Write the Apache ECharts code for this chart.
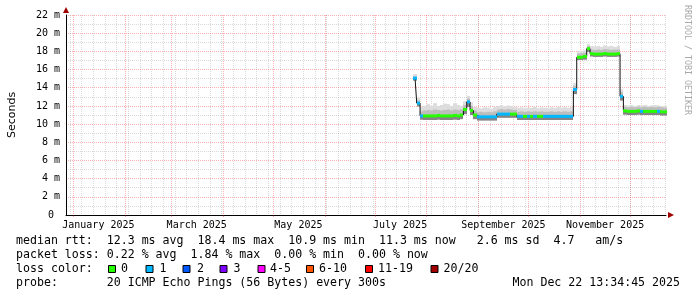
<!DOCTYPE html>
<html><head><meta charset="utf-8">
<script src="https://cdn.jsdelivr.net/npm/echarts@6/dist/echarts.min.js"></script>
<style>html,body{margin:0;padding:0;background:#fff}#c{width:697px;height:297px}</style>
</head><body><div id="c"></div>
<script>
// ---- time range and sampling ----
const rangeStart = '2024-12-27T13:34:45Z';
const rangeEnd = '2025-12-22T13:34:45Z';
const dataStart = '2025-07-25T00:00:00Z';
const stepDays = 2;

// ---- series values (ms) ----
const medianRtt = [
 15.05, 12.3, 10.9, 10.9, 10.9, 10.9, 10.9, 10.95, 10.9, 10.9,
 10.9, 10.9, 10.95, 10.9, 11.0, 11.6, 12.45, 11.5, 11.0, 10.8,
 10.8, 10.8, 10.8, 10.8, 10.8, 11.1, 11.1, 11.1, 11.1, 11.1,
 11.1, 10.85, 10.85, 10.85, 10.85, 10.85, 10.85, 10.85, 10.85, 10.85,
 10.85, 10.85, 10.85, 10.85, 10.85, 10.85, 10.85, 10.85, 13.8, 17.35,
 17.35, 17.45, 18.3, 17.75, 17.7, 17.7, 17.7, 17.75, 17.7, 17.7,
 17.7, 17.75, 13.05, 11.45, 11.4, 11.4, 11.4, 11.45, 11.4, 11.4,
 11.4, 11.4, 11.4, 11.4, 11.35, 11.35];
const lossCount = [
 1,1,1,0,0,0,0,0,0,0,
 0,0,0,0,0,0,1,0,0,1,
 1,1,1,1,1,1,1,1,1,0,
 0,1,1,0,1,0,1,0,0,1,
 1,1,1,1,1,1,1,1,1,0,
 0,0,0,0,0,0,0,0,0,0,
 0,0,1,0,0,0,0,0,1,0,
 0,0,0,1,0,0];
const smokeMin = [
 14.8, 11.95, 10.5, 10.45, 10.45, 10.45, 10.45, 10.5, 10.45, 10.45,
 10.45, 10.45, 10.5, 10.45, 10.55, 11.1, 11.9, 11.0, 10.55, 10.4,
 10.4, 10.4, 10.4, 10.4, 10.4, 10.7, 10.7, 10.7, 10.7, 10.7,
 10.7, 10.45, 10.45, 10.45, 10.45, 10.45, 10.45, 10.45, 10.45, 10.45,
 10.45, 10.45, 10.45, 10.45, 10.45, 10.45, 10.45, 10.45, 13.3, 17.05,
 17.05, 17.1, 17.95, 17.45, 17.4, 17.4, 17.4, 17.45, 17.4, 17.4,
 17.4, 17.45, 12.6, 11.05, 11.0, 11.0, 11.0, 11.05, 11.0, 11.0,
 11.0, 11.0, 11.0, 11.0, 10.95, 10.95];
const smokeMid = [
 15.25, 12.6, 11.4, 11.5, 11.55, 11.5, 11.6, 11.55, 11.5, 11.55,
 11.6, 11.5, 11.6, 11.55, 11.6, 12.1, 12.8, 12.0, 11.5, 11.3,
 11.35, 11.3, 11.35, 11.3, 11.4, 11.6, 11.65, 11.6, 11.65, 11.6,
 11.55, 11.35, 11.4, 11.35, 11.4, 11.35, 11.4, 11.35, 11.4, 11.35,
 11.35, 11.4, 11.35, 11.4, 11.35, 11.4, 11.35, 11.4, 14.2, 17.75,
 17.8, 17.85, 18.6, 18.2, 18.15, 18.2, 18.15, 18.25, 18.2, 18.15,
 18.2, 18.2, 13.5, 11.9, 11.85, 11.9, 11.85, 11.9, 11.85, 11.9,
 11.85, 11.9, 11.85, 11.9, 11.85, 11.8];
const smokeMax = [
 15.5, 12.9, 11.9, 12.0, 12.2, 11.95, 12.3, 12.0, 12.1, 12.25,
 12.2, 12.0, 12.3, 12.1, 12.0, 12.5, 13.1, 12.4, 11.9, 11.8,
 11.75, 11.85, 11.8, 11.7, 11.9, 12.0, 12.1, 11.95, 12.05, 12.0,
 11.9, 11.8, 11.85, 11.75, 11.8, 11.8, 11.9, 11.75, 11.85, 11.8,
 11.75, 11.85, 11.8, 11.9, 11.8, 11.85, 11.8, 11.9, 14.5, 18.0,
 18.05, 18.1, 18.8, 18.6, 18.55, 18.6, 18.5, 18.65, 18.55, 18.6,
 18.5, 18.6, 13.8, 12.1, 12.05, 12.1, 12.0, 12.1, 12.05, 12.1,
 12.0, 12.05, 12.1, 12.05, 12.0, 12.0];

// ---- axis ticks / labels ----
const monthStarts = ['2025-01-01','2025-02-01','2025-03-01','2025-04-01','2025-05-01','2025-06-01',
  '2025-07-01','2025-08-01','2025-09-01','2025-10-01','2025-11-01','2025-12-01'];
const labelDates = ['2025-01-16','2025-03-16','2025-05-16','2025-07-16','2025-09-16','2025-11-16'];
const tickLabels = ['January 2025','March 2025','May 2025','July 2025','September 2025','November 2025'];
const firstMinorGrid = '2024-12-30';
const minorGridDays = 7;

// ---- legend texts ----
const lossLegend = ['0','1','2','3','4-5','6-10','11-19','20/20'];
const lossColors = ['#26ff00','#00b8ff','#0059ff','#7e00ff','#ff00ff','#ff5500','#ff0000','#a10000'];
const statLines = [
  'median rtt:  12.3 ms avg  18.4 ms max  10.9 ms min  11.3 ms now   2.6 ms sd  4.7   am/s',
  'packet loss: 0.22 % avg  1.84 % max  0.00 % min  0.00 % now',
  'loss color:',
  'probe:       20 ICMP Echo Pings (56 Bytes) every 300s'
];
const stampText = 'Mon Dec 22 13:34:45 2025';
const watermark = 'RRDTOOL / TOBI OETIKER';

// ---- build ----
const DAY = 86400000;
const tMin = Date.parse(rangeStart), tMax = Date.parse(rangeEnd);
const t0 = Date.parse(dataStart);
const monthTimes = monthStarts.map(d => Date.parse(d + 'T00:00:00Z'));
const labelTimes = labelDates.map(d => Date.parse(d + 'T00:00:00Z'));
const minorTimes = [];
for (let t = Date.parse(firstMinorGrid + 'T00:00:00Z'); t < tMax; t += minorGridDays * DAY) minorTimes.push(t);

function lossClass(n) {
  if (n <= 3) return n;
  if (n <= 5) return 4;
  if (n <= 10) return 5;
  if (n <= 19) return 6;
  return 7;
}
const rows = medianRtt.map((m, i) => [t0 + i * stepDays * DAY, smokeMin[i], smokeMid[i], smokeMax[i], m, lossCount[i]]);
const half = stepDays * DAY / 2;

function spanX(api, t) {
  return [Math.round(api.coord([t - half, 0])[0]), Math.round(api.coord([t + half, 0])[0])];
}
function renderSmoke(params, api) {
  const t = api.value(0);
  const [x0, x1] = spanX(api, t);
  const yMin = api.coord([t, api.value(1)])[1];
  const yMid = api.coord([t, api.value(2)])[1];
  const yMax = api.coord([t, api.value(3)])[1];
  const yMed = api.coord([t, api.value(4)])[1];
  const w = x1 - x0;
  return { type: 'group', children: [
    { type: 'rect', shape: { x: x0, y: yMax, width: w, height: yMin - yMax }, style: { fill: '#dddddd' } },
    { type: 'rect', shape: { x: x0, y: yMid, width: w, height: yMin - yMid }, style: { fill: '#bdbdbd' } },
    { type: 'rect', shape: { x: x0, y: yMed, width: w, height: yMin - yMed }, style: { fill: '#858585' } }
  ]};
}
function renderMedian(params, api) {
  const t = api.value(0);
  const [x0, x1] = spanX(api, t);
  const yMed = api.coord([t, api.value(4)])[1];
  return { type: 'rect', shape: { x: x0, y: yMed - 1.5, width: x1 - x0, height: 3 },
    style: { fill: lossColors[lossClass(api.value(5))] } };
}

const mono = '"DejaVu Sans Mono", monospace';
function txt(x, y, text, size, extra) {
  const el = { type: 'text', x: x, y: y, silent: true, z: 100,
    style: { text: text, font: size + 'px ' + mono, fill: '#000',
      align: 'left', verticalAlign: 'middle', textAlign: 'left', textVerticalAlign: 'middle' } };
  if (extra) Object.assign(el.style, extra);
  return el;
}
const rowY = [241, 255, 269, 283];
const boxX = [108, 145.5, 182.5, 219.5, 257.5, 306, 365, 430.5];
const boxLabelX = [121, 159.5, 197, 233.5, 270, 319, 378, 443.5];
const graphics = [];
statLines.forEach((s, i) => graphics.push(txt(16, rowY[i], s, 11.6)));
lossLegend.forEach((s, i) => {
  graphics.push({ type: 'rect', x: boxX[i] + 0.5, y: 265.5, z: 100, silent: true,
    shape: { x: 0, y: 0, width: 7, height: 7 }, style: { fill: lossColors[i], stroke: '#000', lineWidth: 1 } });
  graphics.push(txt(boxLabelX[i], rowY[2], s, 11.6));
});
graphics.push(txt(680, rowY[3], stampText, 11.6, { align: 'right', textAlign: 'right' }));
graphics.push({ type: 'text', x: 687, y: 60, rotation: -Math.PI / 2, silent: true, z: 100,
  style: { text: watermark, font: '8.3px ' + mono, fill: '#a8a8a8', align: 'center', verticalAlign: 'middle',
    textAlign: 'center', textVerticalAlign: 'middle' } });

function nearestLabel(v) {
  let b = 0;
  labelTimes.forEach((t, i) => { if (Math.abs(t - v) < Math.abs(labelTimes[b] - v)) b = i; });
  return tickLabels[b];
}

const chart = echarts.init(document.getElementById('c'), null, { width: 697, height: 297, renderer: 'canvas' });
chart.setOption({
  animation: false,
  backgroundColor: '#ffffff',
  grid: { left: 66, right: 31, top: 15, bottom: 82, containLabel: false, outerBoundsMode: 'none' },
  xAxis: [{
    type: 'value', min: tMin, max: tMax, position: 'bottom',
    axisLine: { show: true, onZero: false, lineStyle: { color: '#000', width: 1 } },
    axisTick: { show: true, customValues: monthTimes, length: 2, lineStyle: { color: 'rgba(255,0,0,0.35)' } },
    axisLabel: { show: true, customValues: labelTimes, margin: 5, fontFamily: mono, fontSize: 10, color: '#000',
      formatter: nearestLabel },
    splitLine: { show: true, lineStyle: { color: 'rgba(255,0,0,0.3)', width: 1, type: [1, 1] } }
  }, {
    type: 'value', min: tMin, max: tMax, position: 'bottom',
    axisLine: { show: true, onZero: false, symbol: ['none', 'triangle'], symbolSize: [6, 6], symbolOffset: [0, 5],
      lineStyle: { color: '#a00000', width: 0 } },
    axisTick: { show: false, customValues: minorTimes },
    axisLabel: { show: false },
    splitLine: { show: true, lineStyle: { color: 'rgba(128,128,128,0.3)', width: 1, type: [1, 1] } }
  }],
  yAxis: [{
    type: 'value', min: 0, max: 22, interval: 2, position: 'left',
    name: 'Seconds', nameLocation: 'middle', nameGap: 48, nameRotate: 90,
    nameTextStyle: { fontFamily: '"DejaVu Sans", sans-serif', fontSize: 11, color: '#000' },
    axisLine: { show: true, onZero: false, lineStyle: { color: '#000', width: 1 } },
    axisTick: { show: false },
    axisLabel: { margin: 6, fontFamily: mono, fontSize: 10, color: '#000',
      formatter: v => v === 0 ? '0 ' : v + ' m' },
    splitLine: { show: true, lineStyle: { color: 'rgba(255,0,0,0.3)', width: 1, type: [1, 1] } },
    minorTick: { show: false, splitNumber: 2 },
    minorSplitLine: { show: true, lineStyle: { color: 'rgba(128,128,128,0.3)', width: 1, type: [1, 1] } }
  }, {
    type: 'value', min: 0, max: 22, interval: 2, position: 'left',
    axisLine: { show: true, onZero: false, symbol: ['none', 'triangle'], symbolSize: [6, 6], symbolOffset: [0, 5],
      lineStyle: { color: '#a00000', width: 0 } },
    axisTick: { show: false }, axisLabel: { show: false }, splitLine: { show: false }
  }],
  series: [{
    type: 'custom', name: 'smoke', xAxisIndex: 0, yAxisIndex: 0, z: 3,
    renderItem: renderSmoke, data: rows, encode: { x: 0, y: [1, 2, 3, 4] }
  }, {
    type: 'line', name: 'median', xAxisIndex: 0, yAxisIndex: 0, z: 4, step: 'middle',
    showSymbol: false, symbol: 'none', silent: true,
    lineStyle: { color: '#111', width: 1 },
    data: rows.map(r => [r[0], r[4]])
  }, {
    type: 'custom', name: 'loss', xAxisIndex: 0, yAxisIndex: 0, z: 5,
    renderItem: renderMedian, data: rows, encode: { x: 0, y: 4 }
  }],
  graphic: { elements: graphics }
});
</script>
</body></html>
